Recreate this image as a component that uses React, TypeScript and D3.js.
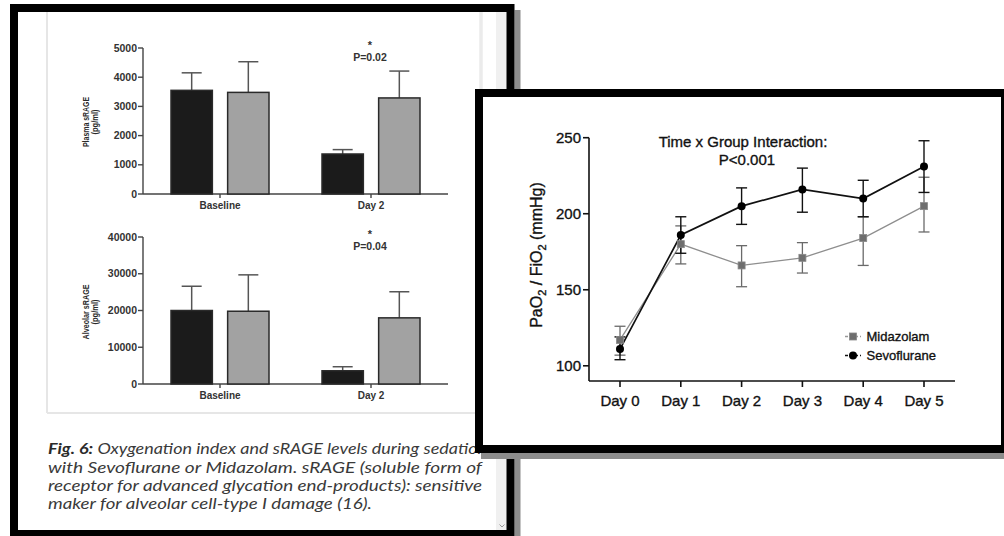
import React from 'react';
import * as d3 from 'd3';

// ---------- Left panel data (sRAGE bar charts) ----------
const sragGroups = ['Baseline', 'Day 2'];
const sragSeries = ['Sevoflurane', 'Midazolam'];
const plasmaSevo = [3550, 1370];
const plasmaSevoErr = [600, 150];
const plasmaMid = [3480, 3290];
const plasmaMidErr = [1050, 920];
const plasmaTicks = [0, 1000, 2000, 3000, 4000, 5000];
const alveolarSevo = [20000, 3600];
const alveolarSevoErr = [6600, 1100];
const alveolarMid = [19800, 18000];
const alveolarMidErr = [9900, 7100];
const alveolarTicks = [0, 10000, 20000, 30000, 40000];
const pLabels = ['P=0.02', 'P=0.04'];

// ---------- Right panel data (PaO2/FiO2) ----------
const days = ['Day 0', 'Day 1', 'Day 2', 'Day 3', 'Day 4', 'Day 5'];
const sevoPF = [111, 186, 205, 216, 210, 231];
const sevoLo = [104, 174, 193, 201, 198, 214];
const sevoHi = [119, 198, 217, 230, 222, 248];
const midPF = [117, 180, 166, 171, 184, 205];
const midLo = [107, 167, 152, 161, 166, 188];
const midHi = [126, 192, 179, 181, 198, 224];
const pfTicks = [100, 150, 200, 250];

const captionLines = [
  'with Sevoflurane or Midazolam. sRAGE (soluble form of',
  'receptor for advanced glycation end-products): sensitive',
  'maker for alveolar cell-type I damage (16).',
];

const SANS = "'Liberation Sans', Arial, Helvetica, sans-serif";

type BarProps = {
  yTop: number;
  yBottom: number;
  max: number;
  ticks: number[];
  sevo: number[];
  sevoErr: number[];
  mid: number[];
  midErr: number[];
  label: string;
  pLabel: string;
  labelCenter: number;
};

function BarChart(p: BarProps) {
  const y = d3.scaleLinear().domain([0, p.max]).range([p.yBottom, p.yTop]);
  const x0 = d3.scaleBand<string>().domain(sragGroups).range([144.5, 446.5]);
  const x1 = d3.scaleBand<string>().domain(sragSeries).range([26.5, 124.5]).paddingInner(0.27);
  const bw = x1.bandwidth();
  const vals: Record<string, number[]> = { Sevoflurane: p.sevo, Midazolam: p.mid };
  const errs: Record<string, number[]> = { Sevoflurane: p.sevoErr, Midazolam: p.midErr };
  const fills: Record<string, string> = { Sevoflurane: '#1b1b1b', Midazolam: '#a2a2a2' };
  const axisX0 = 143;
  const axisX1 = 448;
  return (
    <g>
      {/* y axis */}
      <line x1={axisX0} x2={axisX0} y1={y(p.max)} y2={y(0)} stroke="#444" strokeWidth={1.4} />
      {p.ticks.map((t) => (
        <g key={t}>
          <line x1={axisX0 - 5} x2={axisX0} y1={y(t)} y2={y(t)} stroke="#444" strokeWidth={1.4} />
          <text x={137} y={y(t)} dy="0.35em" textAnchor="end" fontFamily={SANS} fontWeight="bold" fontSize={10.5} fill="#333">
            {t}
          </text>
        </g>
      ))}
      {/* x axis */}
      <line x1={axisX0} x2={axisX1} y1={y(0)} y2={y(0)} stroke="#444" strokeWidth={1.4} />
      {sragGroups.map((g) => {
        const cx = (x0(g) as number) + x0.bandwidth() / 2;
        return (
          <g key={g}>
            <line x1={cx} x2={cx} y1={y(0)} y2={y(0) + 4} stroke="#444" strokeWidth={1.4} />
            <text x={cx} y={y(0) + 14.5} textAnchor="middle" fontFamily={SANS} fontWeight="bold" fontSize={10} fill="#333">
              {g}
            </text>
          </g>
        );
      })}
      {/* bars */}
      {sragGroups.map((g, gi) =>
        sragSeries.map((s) => {
          const bx = (x0(g) as number) + (x1(s) as number);
          const v = vals[s][gi];
          const e = errs[s][gi];
          const cx = bx + bw / 2;
          return (
            <g key={g + s}>
              <line x1={cx} x2={cx} y1={y(v)} y2={y(v + e)} stroke="#555" strokeWidth={1.5} />
              <line x1={cx - 10} x2={cx + 10} y1={y(v + e)} y2={y(v + e)} stroke="#555" strokeWidth={1.5} />
              <rect x={bx} y={y(v)} width={bw} height={y(0) - y(v)} fill={fills[s]} stroke="#2a2a2a" strokeWidth={1.5} />
            </g>
          );
        })
      )}
      {/* significance */}
      <text x={370} y={y(p.max) + 1} textAnchor="middle" fontFamily={SANS} fontWeight="bold" fontSize={11} fill="#333">
        *
      </text>
      <text x={370} y={y(p.max) + 13} textAnchor="middle" fontFamily={SANS} fontWeight="bold" fontSize={10.5} fill="#333">
        {p.pLabel}
      </text>
      {/* y label */}
      <g transform={`translate(88.5, ${p.labelCenter}) rotate(-90)`}>
        <text x={0} y={0} textAnchor="middle" fontFamily={SANS} fontWeight="bold" fontSize={9.5} fill="#2a2a2a" textLength={p.label.startsWith('Plasma') ? 50 : 55} lengthAdjust="spacingAndGlyphs">
          {p.label}
        </text>
      </g>
      <g transform={`translate(98, ${p.labelCenter}) rotate(-90)`}>
        <text x={0} y={0} textAnchor="middle" fontFamily={SANS} fontWeight="bold" fontSize={9.5} fill="#2a2a2a" textLength={25} lengthAdjust="spacingAndGlyphs">
          (pg/ml)
        </text>
      </g>
    </g>
  );
}

function PFChart() {
  const x = d3.scalePoint<string>().domain(days).range([620, 924]);
  const y = d3.scaleLinear().domain([90, 250]).range([381, 137.7]);
  const axisX0 = 589;
  const axisX1 = 955;
  const pts = (vals: number[]) => days.map((d, i) => [x(d) as number, y(vals[i])] as [number, number]);
  const line = d3.line();
  const ts = { stroke: '#111', strokeWidth: 0.35 };
  return (
    <g fontFamily={SANS}>
      {/* axes */}
      <line x1={axisX0} x2={axisX0} y1={y(250)} y2={y(90)} stroke="#111" strokeWidth={1.6} />
      <line x1={axisX0} x2={axisX1} y1={y(90)} y2={y(90)} stroke="#111" strokeWidth={1.6} />
      {pfTicks.map((t) => (
        <g key={t}>
          <line x1={axisX0 - 6} x2={axisX0} y1={y(t)} y2={y(t)} stroke="#111" strokeWidth={1.6} />
          <text x={581} y={y(t)} dy="0.36em" textAnchor="end" fontSize={15} fill="#111" {...ts}>
            {t}
          </text>
        </g>
      ))}
      {days.map((d) => (
        <g key={d}>
          <line x1={x(d)} x2={x(d)} y1={y(90)} y2={y(90) + 6} stroke="#111" strokeWidth={1.6} />
          <text x={x(d)} y={405.5} textAnchor="middle" fontSize={15} fill="#111" {...ts}>
            {d}
          </text>
        </g>
      ))}
      {/* y label */}
      <g transform="translate(542, 255) rotate(-90)">
        <text x={0} y={0} textAnchor="middle" fontSize={16} fill="#111" {...ts}>
          <tspan>PaO</tspan>
          <tspan fontSize={11} dy={4}>2</tspan>
          <tspan dy={-4}> / FiO</tspan>
          <tspan fontSize={11} dy={4}>2</tspan>
          <tspan dy={-4}> (mmHg)</tspan>
        </text>
      </g>
      {/* title */}
      <text x={743} y={147} textAnchor="middle" fontSize={15} fill="#111" {...ts}>
        Time x Group Interaction:
      </text>
      <text x={747} y={164.7} textAnchor="middle" fontSize={15} fill="#111" {...ts}>
        P&lt;0.001
      </text>
      {/* Midazolam */}
      <path d={line(pts(midPF)) || ''} fill="none" stroke="#8e8e8e" strokeWidth={1.3} />
      {days.map((d, i) => (
        <g key={'me' + d} stroke="#6a6a6a" strokeWidth={1.3}>
          <line x1={x(d)} x2={x(d)} y1={y(midLo[i])} y2={y(midHi[i])} />
          <line x1={(x(d) as number) - 5.5} x2={(x(d) as number) + 5.5} y1={y(midLo[i])} y2={y(midLo[i])} />
          <line x1={(x(d) as number) - 5.5} x2={(x(d) as number) + 5.5} y1={y(midHi[i])} y2={y(midHi[i])} />
        </g>
      ))}
      {/* Sevoflurane */}
      <path d={line(pts(sevoPF)) || ''} fill="none" stroke="#111" strokeWidth={1.7} />
      {days.map((d, i) => (
        <g key={'se' + d} stroke="#111" strokeWidth={1.4}>
          <line x1={x(d)} x2={x(d)} y1={y(sevoLo[i])} y2={y(sevoHi[i])} />
          <line x1={(x(d) as number) - 5.5} x2={(x(d) as number) + 5.5} y1={y(sevoLo[i])} y2={y(sevoLo[i])} />
          <line x1={(x(d) as number) - 5.5} x2={(x(d) as number) + 5.5} y1={y(sevoHi[i])} y2={y(sevoHi[i])} />
        </g>
      ))}
      {days.map((d, i) => (
        <rect key={'ms' + d} x={(x(d) as number) - 3.5} y={y(midPF[i]) - 3.5} width={7} height={7} fill="#6e6e6e" stroke="#888" strokeWidth={0.8} />
      ))}
      {days.map((d, i) => (
        <circle key={'sc' + d} cx={x(d)} cy={y(sevoPF[i])} r={4} fill="#000" />
      ))}
      {/* legend */}
      <line x1={845} x2={861} y1={336.5} y2={336.5} stroke="#999" strokeWidth={1.3} strokeDasharray="3 2" />
      <rect x={849.5} y={333} width={7} height={7} fill="#6e6e6e" stroke="#888" strokeWidth={0.8} />
      <text x={866.5} y={341} fontSize={13} fill="#111" {...ts}>Midazolam</text>
      <line x1={845} x2={861} y1={355.5} y2={355.5} stroke="#111" strokeWidth={1.5} strokeDasharray="3 2" />
      <circle cx={853} cy={355.5} r={4} fill="#000" />
      <text x={866.5} y={360} fontSize={13} fill="#111" {...ts}>Sevoflurane</text>
    </g>
  );
}

export default function App() {
  return (
    <svg width={1004} height={536} style={{ position: 'absolute', left: 0, top: 0, background: '#fff' }}>
      <rect x={0} y={0} width={1004} height={536} fill="#fff" />
      {/* left panel shadow + body */}
      <rect x={16} y={10} width={504.5} height={534} fill="#8c8c8c" />
      <rect x={10} y={4} width={504.5} height={534} fill="#fff" />
      {/* image frame lines & scrollbar */}
      <rect x={496} y={12} width={11} height={518} fill="#f0f0f0" />
      <line x1={47} x2={47} y1={12} y2={413} stroke="#e6e6e6" strokeWidth={2} />
      <line x1={47} x2={483} y1={413} y2={413} stroke="#e6e6e6" strokeWidth={2} />
      <line x1={481} x2={481} y1={12} y2={413} stroke="#ebebeb" strokeWidth={3.5} />
      <path d="M499.5,524.5 L502,527 L504.5,524.5" fill="none" stroke="#999" strokeWidth={1} />
      <BarChart yTop={48} yBottom={194} max={5000} ticks={plasmaTicks} sevo={plasmaSevo} sevoErr={plasmaSevoErr}
        mid={plasmaMid} midErr={plasmaMidErr} label="Plasma sRAGE" pLabel={pLabels[0]} labelCenter={122} />
      <BarChart yTop={237} yBottom={384} max={40000} ticks={alveolarTicks} sevo={alveolarSevo} sevoErr={alveolarSevoErr}
        mid={alveolarMid} midErr={alveolarMidErr} label="Alveolar sRAGE" pLabel={pLabels[1]} labelCenter={312} />
      {/* caption */}
      <g fontFamily="Lato, 'Open Sans', sans-serif" fontStyle="italic" fontSize={15.5} fill="#3a3a3a">
        <text x={48} y={454} textLength={439} lengthAdjust="spacingAndGlyphs">
          <tspan fontWeight="bold" fill="#2a2a2a">Fig. 6:</tspan>
          <tspan> Oxygenation index and sRAGE levels during sedation</tspan>
        </text>
        {captionLines.map((l, i) => (
          <text key={i} x={48} y={472.5 + i * 18} textLength={[434, 434, 324][i]} lengthAdjust="spacingAndGlyphs">
            {l}
          </text>
        ))}
      </g>
      {/* left frame */}
      <rect x={14} y={8} width={496.5} height={526} fill="none" stroke="#000" strokeWidth={8} />
      {/* right panel shadow + body + frame */}
      <rect x={481} y={95} width={534} height={364} fill="#8c8c8c" />
      <rect x={475} y={89} width={534} height={364} fill="#fff" />
      <PFChart />
      <rect x={479} y={93} width={526} height={356} fill="none" stroke="#000" strokeWidth={8} />
    </svg>
  );
}
